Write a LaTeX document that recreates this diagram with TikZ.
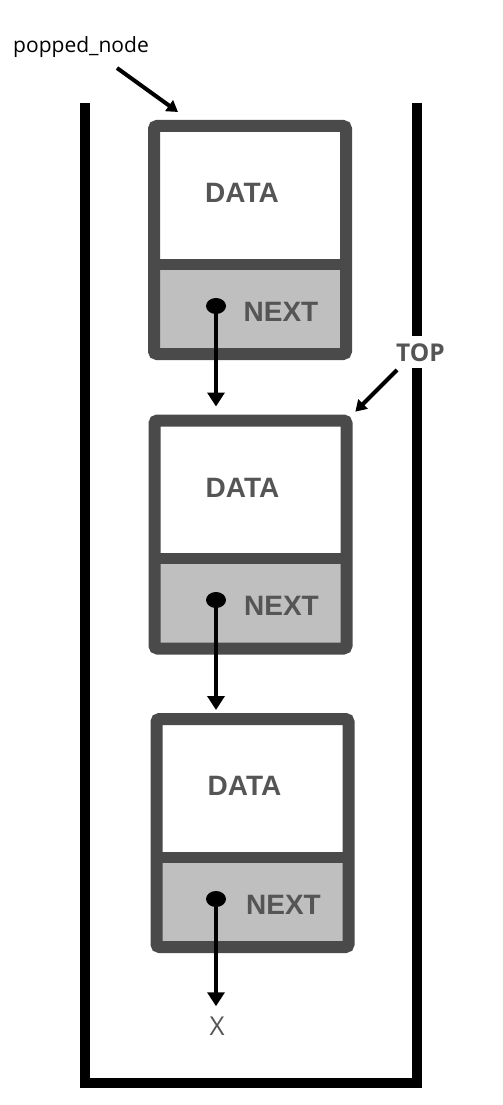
\documentclass[tikz,border=0pt]{standalone}
\usepackage{fontspec}
\setmainfont{Liberation Sans}
\newfontfamily\osans{Open Sans}
\usetikzlibrary{arrows.meta,shapes.geometric}
\definecolor{boxgray}{HTML}{4A4A4A}
\definecolor{fillgray}{HTML}{BFBFBF}
\definecolor{txtgray}{HTML}{555555}
\begin{document}
\begin{tikzpicture}[x=1pt,y=-1pt,
  llbox/.style={draw=boxgray, line width=12pt, rounded corners=3pt, minimum width=192pt, minimum height=228pt, inner sep=0pt, outer sep=6pt},
  lbl/.style={font=\fontsize{28}{30}\selectfont\bfseries, text=txtgray, inner sep=0pt},
  ptr/.style={line width=4pt, -{Triangle[width=17pt,length=14pt]}},
  callout/.style={line width=4pt, -{Triangle[width=13pt,length=11pt]}},
  dotst/.style={ellipse, fill=black, minimum width=20pt, minimum height=16pt, inner sep=0pt}]
\useasboundingbox (0,0) rectangle (503,1105);
% container
\draw[line width=10pt, line join=miter] (85,103) -- (85,1083) -- (417,1083) -- (417,103);
% list nodes
\foreach \i/\L/\T/\R/\B/\D in {1/148/120/352/360/264, 2/149/415/352/654/558, 3/151/713/354/953/857}{
  \fill[fillgray] ({\L+6},\D) rectangle ({\R-6},{\B-6});
  \node[llbox] (n\i) at ({(\L+\R)/2},{(\T+\B)/2}) {};
  \draw[boxgray, line width=11pt] ({\L+6},\D) -- ({\R-6},\D);
  \node[lbl] (data\i) at ({(\L+\R)/2-8},{\T+73}) {DATA};
  \node[lbl] (next\i) at ({(\L+\R)/2+31},{\B-48}) {NEXT};
  \node[dotst] (d\i) at (216,{\B-54}) {};
}
% labels
\node[font=\osans\fontsize{21}{24}\selectfont, anchor=base west, inner sep=0pt] (popped) at (13,53) {popped\_node};
\node[font=\osans\bfseries\fontsize{24.5}{28}\selectfont, text=txtgray, fill=white, inner xsep=2pt, inner ysep=7pt, anchor=base west] (top) at (394,361) {TOP};
\node[font=\osans\fontsize{26}{30}\selectfont, text=txtgray, anchor=base, inner sep=0pt] (x) at (217,1035) {X};
\coordinate (popfrom) at (117,68);
\coordinate (poptip) at (178,112);
\coordinate (topfrom) at (397,370);
% pointers
\draw[ptr, shorten >=8pt] (d1.center) -- (d1.center |- n2.north);
\draw[ptr, shorten >=3pt] (d2.center) -- (d2.center |- n3.north);
\draw[ptr, shorten >=10pt] (d3.center) -- (d3.center |- x.north);
\draw[callout] (popfrom) -- (poptip);
\draw[callout, shorten >=4pt] (topfrom) -- (n2.north east);
\end{tikzpicture}
\end{document}
